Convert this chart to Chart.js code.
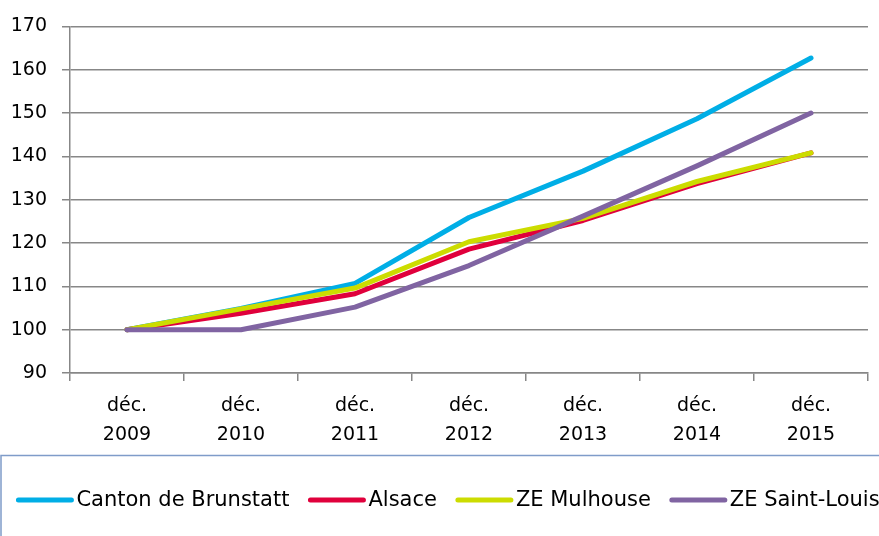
<!DOCTYPE html>
<html>
<head>
<meta charset="utf-8">
<script src="https://cdn.jsdelivr.net/npm/chart.js@4"></script>
<style>
  html, body { margin: 0; padding: 0; background: #fff; }
  canvas { display: block; }
</style>
</head>
<body>
<canvas id="chart" width="879" height="536"></canvas>
<script>
// values (index, déc. 2009 = 100)
const categories = [['déc.', '2009'], ['déc.', '2010'], ['déc.', '2011'], ['déc.', '2012'], ['déc.', '2013'], ['déc.', '2014'], ['déc.', '2015']];
const brunstatt = [100, 104.9, 110.7, 125.9, 136.6, 148.7, 162.7];
const alsace = [100, 103.8, 108.3, 118.6, 125.2, 133.7, 140.8];
const mulhouse = [100, 104.8, 109.6, 120.3, 125.7, 134.2, 140.8];
const saintLouis = [100, 100, 105.2, 114.8, 126.2, 137.8, 150];
const yTicks = [90, 100, 110, 120, 130, 140, 150, 160, 170];

const FONT = '"DejaVu Sans", sans-serif';
const GRID = '#878787';

// legend drawn in a framed box under the plot, like the original
const boxLegend = {
  id: 'boxLegend',
  afterDraw(chart) {
    const ctx = chart.ctx;
    ctx.save();
    ctx.strokeStyle = '#7F9CC9';
    ctx.lineWidth = 1.5;
    ctx.strokeRect(1, 455.5, chart.width + 10, 120);

    ctx.font = '21px ' + FONT;
    ctx.textBaseline = 'middle';
    const lineLen = 57, gapText = 3, gapItem = 19;
    const items = chart.data.datasets.map(ds => ({ ds, w: ctx.measureText(ds.label).width }));
    const total = items.reduce((s, it) => s + lineLen + gapText + it.w, 0) + gapItem * (items.length - 1);
    let x = 448 - total / 2;
    const y = 500;
    items.forEach(it => {
      ctx.strokeStyle = it.ds.borderColor;
      ctx.lineWidth = 5;
      ctx.lineCap = 'round';
      ctx.beginPath();
      ctx.moveTo(x + 2, y);
      ctx.lineTo(x + lineLen - 2, y);
      ctx.stroke();
      x += lineLen + gapText;
      ctx.fillStyle = '#000';
      ctx.fillText(it.ds.label, x, y + 1);
      x += it.w + gapItem;
    });
    ctx.restore();
  }
};

function line(label, data, color, order) {
  return {
    label, data, order,
    borderColor: color,
    backgroundColor: color,
    borderWidth: 5,
    pointRadius: 0,
    tension: 0,
    borderCapStyle: 'round',
    borderJoinStyle: 'round'
  };
}

new Chart(document.getElementById('chart'), {
  type: 'line',
  data: {
    labels: categories,
    datasets: [
      line('Canton de Brunstatt', brunstatt, '#00AEE6', 3),
      line('Alsace', alsace, '#E0003C', 2),
      line('ZE Mulhouse', mulhouse, '#CCDC00', 1),
      line('ZE Saint-Louis', saintLouis, '#8064A2', 0)
    ]
  },
  options: {
    responsive: false,
    animation: false,
    layout: { padding: { top: 24, right: 11, left: 0, bottom: 0 } },
    plugins: {
      legend: { display: false },
      tooltip: { enabled: false }
    },
    scales: {
      x: {
        offset: true,
        grid: { offset: true, drawOnChartArea: false, color: GRID, lineWidth: 1.5, tickLength: 8 },
        border: { color: GRID, width: 1.5 },
        ticks: { color: '#000', font: { family: FONT, size: 19, lineHeight: 1.55 }, padding: 10, maxRotation: 0 },
        afterFit(scale) { scale.height = 163; }
      },
      y: {
        min: 90,
        max: 170,
        afterBuildTicks(scale) { scale.ticks = yTicks.map(v => ({ value: v })); },
        grid: { color: GRID, lineWidth: 1.5, tickLength: 8 },
        border: { color: GRID, width: 1.5 },
        ticks: { color: '#000', font: { family: FONT, size: 19 }, padding: 15 },
        afterFit(scale) { scale.width = 70; }
      }
    }
  },
  plugins: [boxLegend]
});
</script>
</body>
</html>
